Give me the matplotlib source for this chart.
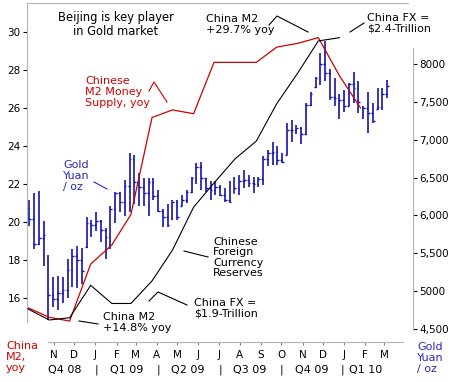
import numpy as np
import pandas as pd
import matplotlib
matplotlib.use("Agg")
import matplotlib.pyplot as plt
import matplotlib.dates as mdates
from matplotlib.lines import Line2D

# --- Data ---

# China M2 money supply, % yoy (month-end values, Sep 2008 .. Jan 2010)
m2_months = pd.date_range("2008-09-30", periods=17, freq="ME")
m2_yoy = [15.5, 15.0, 14.8, 17.8, 18.8, 20.4, 25.5, 25.9, 25.7, 28.4,
          28.4, 28.4, 29.2, 29.4, 29.7, 27.7, 26.0]

# China foreign currency reserves, $ trillion (Sep 2008 .. Dec 2009)
fx_months = pd.date_range("2008-09-30", periods=16, freq="ME")
fx_reserves = [1.906, 1.886, 1.890, 1.949, 1.916, 1.916, 1.957, 2.013,
               2.091, 2.135, 2.179, 2.211, 2.279, 2.335, 2.393, 2.399]

# Gold in yuan per ounce, weekly bars
gold_open = [6100, 5950, 5620, 5700, 5400, 4950, 4890, 4970, 5010, 5280,
             5470, 5410, 5580, 5900, 5870, 5920, 5810, 5720, 6090, 6290,
             6180, 6390, 6750, 6440, 6380, 6300, 6440, 6260, 6060, 5980,
             5950, 6180, 6120, 6200, 6310, 6490, 6640, 6490, 6360, 6330,
             6380, 6270, 6200, 6300, 6360, 6450, 6470, 6430, 6420, 6480,
             6750, 6830, 6840, 6730, 6800, 7130, 7130, 7150, 7080, 7460,
             7690, 7820, 8000, 7880, 7560, 7550, 7520, 7440, 7730, 7680,
             7430, 7420, 7350, 7400, 7430, 7600]
gold_high = [6210, 6290, 6320, 5920, 5480, 5190, 5200, 5190, 5430, 5550,
             5600, 5570, 5980, 5940, 6040, 5940, 5830, 6120, 6310, 6310,
             6470, 6830, 6800, 6560, 6490, 6490, 6490, 6340, 6090, 6150,
             6200, 6200, 6270, 6340, 6510, 6690, 6710, 6490, 6450, 6450,
             6400, 6360, 6450, 6510, 6530, 6600, 6530, 6510, 6510, 6780,
             6860, 6970, 6920, 6820, 7220, 7260, 7190, 7170, 7480, 7630,
             7830, 8140, 8300, 7940, 7810, 7610, 7660, 7750, 7900, 7770,
             7440, 7630, 7480, 7680, 7680, 7790]
gold_low = [5860, 5560, 5610, 5330, 4620, 4790, 4750, 4840, 4910, 5060,
            5040, 5100, 5570, 5720, 5790, 5650, 5430, 5550, 5900, 6050,
            5990, 6050, 6150, 6120, 6120, 5990, 6200, 6050, 5850, 5850,
            5940, 5940, 6120, 6160, 6290, 6420, 6340, 6310, 6200, 6270,
            6250, 6180, 6160, 6290, 6270, 6360, 6380, 6290, 6380, 6400,
            6650, 6670, 6670, 6690, 6800, 6970, 7080, 6950, 7060, 7440,
            7680, 7720, 7770, 7520, 7440, 7280, 7370, 7440, 7480, 7350,
            7280, 7090, 7220, 7390, 7390, 7550]
gold_close = [5950, 5620, 5700, 5740, 4950, 4890, 4970, 5010, 5280, 5470,
              5410, 5260, 5900, 5870, 5920, 5810, 5720, 6090, 6290, 6180,
              6390, 6750, 6440, 6380, 6300, 6440, 6260, 6060, 5980, 5880,
              6180, 5980, 6200, 6310, 6490, 6640, 6490, 6360, 6330, 6380,
              6270, 6200, 6180, 6360, 6450, 6470, 6430, 6420, 6480, 6750,
              6830, 6840, 6730, 6700, 7130, 7130, 7150, 7080, 7460, 7610,
              7820, 8000, 7880, 7560, 7550, 7520, 7440, 7730, 7680, 7500,
              7420, 7350, 7250, 7430, 7600, 7710]
gold_weeks = pd.date_range("2008-10-02", periods=len(gold_close), freq="7D")

# Axis labels
month_ticks = pd.date_range("2008-11-01", periods=17, freq="MS") + pd.Timedelta(days=6)
month_labels = ["N", "D", "J", "F", "M", "A", "M", "J", "J",
                "A", "S", "O", "N", "D", "J", "F", "M"]
quarter_labels = ["Q4 08", "|", "Q1 09", "|", "Q2 09", "|", "Q3 09", "|", "Q4 09", "|", "Q1 10"]
quarter_dates = pd.to_datetime(["2008-11-23", "2009-01-09", "2009-02-22", "2009-04-09",
                                "2009-05-23", "2009-07-09", "2009-08-21", "2009-10-07",
                                "2009-11-20", "2010-01-04", "2010-02-07"])
gold_ticks = [4500, 5000, 5500, 6000, 6500, 7000, 7500, 8000]
gold_tick_labels = ["4,500", "5000", "5,500", "6,000", "6,500", "7,000", "7,500", "8000"]
m2_ticks = [16, 18, 20, 22, 24, 26, 28, 30]

# --- Colours ---
RED = "#cc0000"
BLUE = "#0a0aa8"
TEXT_BLUE = "#2a2ab8"
GRAY = "#b4b4b4"

plt.rcParams["font.family"] = "DejaVu Sans"

W, H = 454, 382
fig = plt.figure(figsize=(W / 100, H / 100), dpi=100)
fig.patch.set_facecolor("white")

# gold on the base axes (drawn first, lines on top)
ax = fig.add_axes([27 / W, 1 - 342 / H, (413 - 27) / W, (342 - 3) / H])
axm = ax.twinx()   # M2 yoy, left scale
axf = ax.twinx()   # FX reserves, no scale shown

x_lo = mdates.date2num(pd.Timestamp("2008-09-28 12:00"))
x_hi = mdates.date2num(pd.Timestamp("2010-04-18"))
ax.set_xlim(x_lo, x_hi)

# --- Gold OHLC bars ---
xg = mdates.date2num(gold_weeks)
tick_w = 2.5
ax.vlines(xg, gold_low, gold_high, color=BLUE, linewidth=1.15)
ax.hlines(gold_open, xg - tick_w, xg, color=BLUE, linewidth=1.0)
ax.hlines(gold_close, xg, xg + tick_w, color=BLUE, linewidth=1.0)
ax.set_ylim(4328, 8806)

# --- M2 and FX lines ---
axm.plot(mdates.date2num(m2_months), m2_yoy, color=RED, linewidth=0.9)
axm.set_ylim(13.70, 31.52)
axf.plot(mdates.date2num(fx_months), fx_reserves, color="black", linewidth=0.8)
axf.set_ylim(1.846, 2.462)

# --- Axes styling ---
for a in (ax, axm, axf):
    for s in a.spines.values():
        s.set_visible(False)
    a.set_xlim(x_lo, x_hi)

ax.yaxis.tick_right()
ax.yaxis.set_label_position("right")
ax.set_yticks(gold_ticks)
ax.set_yticklabels(gold_tick_labels)
ax.tick_params(axis="y", direction="out", length=3, pad=1.5, labelsize=7.5,
               color="black", width=0.8)
ax.spines["right"].set_visible(True)
ax.spines["right"].set_bounds(4486, 8211)
ax.spines["right"].set_color(GRAY)
ax.spines["bottom"].set_visible(True)
ax.spines["bottom"].set_bounds(mdates.date2num(pd.Timestamp("2008-10-29")),
                               mdates.date2num(pd.Timestamp("2010-04-04")))
ax.spines["bottom"].set_color(GRAY)
ax.spines["top"].set_visible(True)
ax.spines["top"].set_bounds(x_lo, mdates.date2num(pd.Timestamp("2010-04-10")))
ax.spines["top"].set_color(GRAY)

ax.set_xticks(mdates.date2num(month_ticks))
ax.set_xticklabels(month_labels)
ax.tick_params(axis="x", direction="out", length=2, pad=4, labelsize=7.5,
               color="#808080", width=0.8)

axm.yaxis.tick_left()
axm.set_yticks(m2_ticks)
axm.set_yticklabels([str(v) for v in m2_ticks])
axm.tick_params(axis="y", direction="out", length=3, pad=1.5, labelsize=7.5,
                color="black", width=0.8)
axm.tick_params(axis="x", bottom=False, labelbottom=False)
axm.spines["left"].set_visible(True)
axm.spines["left"].set_bounds(14.75, 31.52)
axm.spines["left"].set_color(GRAY)

axf.set_yticks([])
axf.tick_params(axis="x", bottom=False, labelbottom=False)

# quarter row under the months
for d, s in zip(quarter_dates, quarter_labels):
    ax.text(mdates.date2num(d), -0.083, s, transform=ax.get_xaxis_transform(),
            ha="center", va="center", fontsize=8, color="black")


# --- Annotations (positions in picture pixels) ---
def note(x, y, s, color="black", size=8):
    fig.text(x / W, 1 - y / H, s, ha="left", va="center", fontsize=size,
             color=color, linespacing=1.08)


def leader(xs, ys, color="black"):
    fig.add_artist(Line2D([x / W for x in xs], [1 - y / H for y in ys],
                          color=color, linewidth=0.8))


fig.text(116 / W, 1 - 24.5 / H, "Beijing is key player\nin Gold market",
         ha="center", va="center", fontsize=8.3, linespacing=1.08)

note(206, 24.5, "China M2\n+29.7% yoy")
leader([269, 277, 308], [25, 16, 32])

note(367, 23.5, "China FX =\n$2.4-Trillion")
leader([350, 364], [32, 23])

note(85, 92, "Chinese\nM2 Money\nSupply, yoy", color=RED)
leader([149, 154, 167], [91, 82, 102], color=RED)

note(63, 176, "Gold\nYuan\n/ oz", color=TEXT_BLUE)
leader([94, 107], [182, 189], color=TEXT_BLUE)

note(213, 257.5, "Chinese\nForeign\nCurrency\nReserves")
leader([184, 208], [251, 257])

note(194, 308.5, "China FX =\n$1.9-Trillion")
leader([149, 158, 187], [301, 292, 305])

note(103, 322.5, "China M2\n+14.8% yoy")
leader([79, 98], [321, 324])

# axis captions in the bottom corners
note(6, 357, "China\nM2,\nyoy", color=RED)
note(417, 358, "Gold\nYuan\n/ oz", color=TEXT_BLUE)

fig.savefig("out.png", dpi=100)
